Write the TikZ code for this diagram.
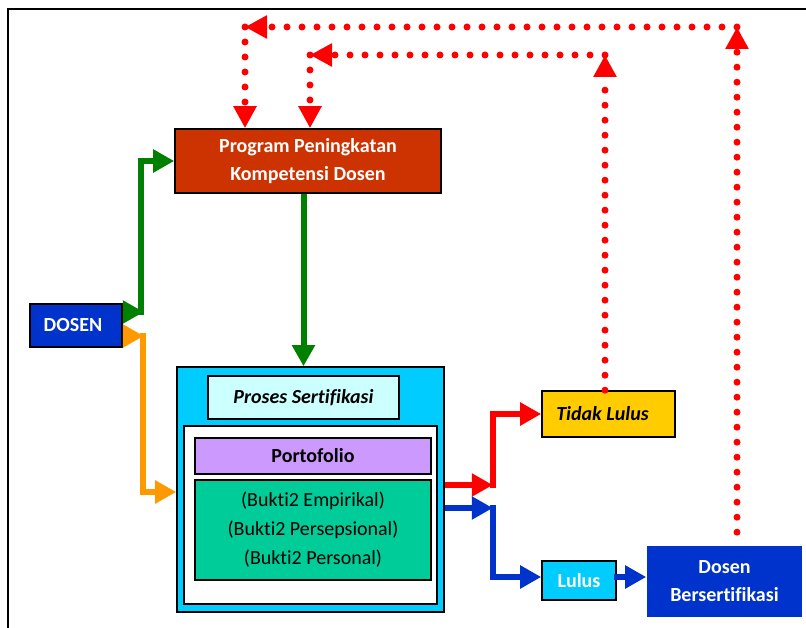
\documentclass[tikz,border=0pt]{standalone}
\usepackage{fontspec}
\setmainfont[Ligatures=NoCommon]{Carlito}
\usetikzlibrary{arrows.meta}
\definecolor{dblue}{HTML}{0033CC}
\definecolor{brick}{HTML}{CC3300}
\definecolor{skyc}{HTML}{00CCFF}
\definecolor{paleC}{HTML}{CCFFFF}
\definecolor{lilac}{HTML}{CC99FF}
\definecolor{seag}{HTML}{00CC99}
\definecolor{gold}{HTML}{FFCC00}
\definecolor{ggreen}{HTML}{008000}
\definecolor{orng}{HTML}{FF9900}
\definecolor{rred}{HTML}{FF0000}
\begin{document}
\begin{tikzpicture}[x=1pt,y=-1pt,
  box/.style={draw=black, line width=1.6pt, inner sep=0pt, align=center,
    font=\fontsize{20}{28}\selectfont\bfseries},
  sol/.style={line width=6pt, -{Triangle[length=21pt,width=22pt]}},
  dots/.style={rred, line width=7pt, dash pattern=on 0pt off 15pt, line cap=round,
    -{Triangle[length=22pt,width=22pt]}}]
\useasboundingbox (0,0) rectangle (806,628);
% frame
\draw[line width=2.5pt] (806,9) -- (8,9) -- (8,628);
% nodes
\node[box, fill=dblue, text=white, minimum width=92pt, minimum height=43pt] (dosen) at (76,325.5) {DOSEN\hspace*{6pt}};
\node[box, fill=brick, text=white, minimum width=266pt, minimum height=64pt] (prog) at (308,161) {Program Peningkatan\\Kompetensi Dosen};
\node[box, fill=skyc, minimum width=267pt, minimum height=245pt] (proc) at (310.5,489.5) {};
\node[box, fill=paleC, minimum width=191pt, minimum height=43pt, font=\fontsize{20}{28}\selectfont\bfseries\itshape] (plabel) at (303.5,397.5) {Proses Sertifikasi};
\node[box, fill=white, minimum width=253pt, minimum height=178pt] (inner) at (310.5,515) {};
\node[box, fill=lilac, minimum width=236pt, minimum height=36pt] (porto) at (313,456) {Portofolio};
\node[box, fill=seag, minimum width=236pt, minimum height=100pt, font=\fontsize{20}{29}\selectfont] (bukti) at (313,530) {(Bukti2 Empirikal)\\(Bukti2 Persepsional)\\(Bukti2 Personal)};
\node[box, fill=gold, minimum width=133pt, minimum height=46pt, font=\fontsize{20}{28}\selectfont\bfseries\itshape] (tidak) at (608.5,414) {Tidak Lulus\hspace*{12pt}};
\node[box, fill=skyc, text=white, minimum width=74pt, minimum height=39pt] (lulus) at (579,580.5) {Lulus};
\node[box, draw=none, fill=dblue, text=white, minimum width=155pt, minimum height=71pt] (dbers) at (724.5,581.5) {Dosen\\Bersertifikasi};
% green connectors
\draw[sol, ggreen] ([yshift=13.5pt]dosen.east) -- ++(21,0);
\coordinate (gj) at (141,315);
\draw[sol, ggreen] (gj) |- (prog.west);
\draw[sol, ggreen] ([xshift=-4.5pt]prog.south) -- ([xshift=-4.5pt]prog.south |- proc.north);
% orange connectors
\draw[sol, orng] ([yshift=-10.5pt]dosen.east) -- ++(21,0);
\coordinate (oj) at (143,333);
\draw[sol, orng] (oj) |- ([yshift=-2.5pt]proc.west);
% red / blue out of process
\draw[sol, rred] ([yshift=4.5pt]proc.east) -- ++(48,0);
\coordinate (rj) at (493,488);
\draw[sol, rred] (rj) |- (tidak.west);
\draw[sol, dblue] ([yshift=-18.5pt]proc.east) -- ++(48,0);
\coordinate (bj) at (493,505);
\draw[sol, dblue] (bj) |- ([yshift=3.5pt]lulus.west);
\draw[sol, dblue] ([yshift=3.5pt,xshift=-3pt]lulus.east) -- ([yshift=3.5pt]lulus.east -| dbers.west);
% dotted feedback
\coordinate (a1) at (737,27);
\coordinate (a2) at (245,27);
\coordinate (b1) at (605,55);
\coordinate (b2) at (310,55);
\draw[dots] ([xshift=12.5pt,yshift=13pt]dbers.north) -- (a1);
\draw[dots] (a1) -- (a2);
\draw[dots] (a2) -- (a2 |- prog.north);
\draw[dots] (b1 |- tidak.north) -- (b1);
\draw[dots] (b1) -- (b2);
\draw[dots] (b2) -- (b2 |- prog.north);
\end{tikzpicture}
\end{document}
